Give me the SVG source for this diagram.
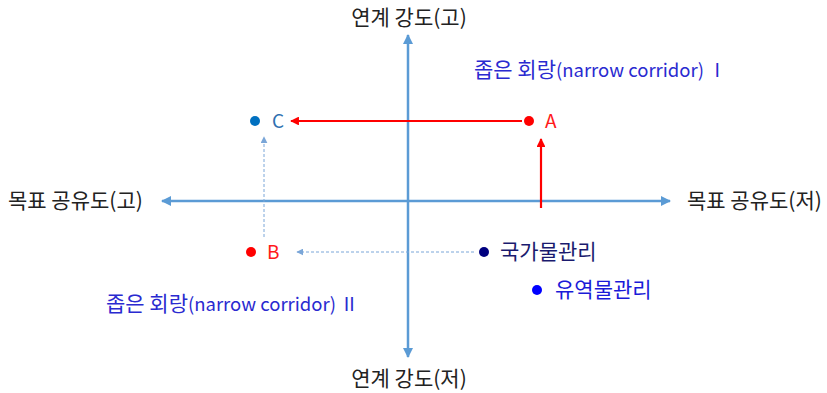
<svg xmlns="http://www.w3.org/2000/svg" width="827" height="393" viewBox="0 0 827 393">
<style>
text{font-family:"Noto Sans CJK KR","Noto Sans",sans-serif;font-size:21px}
.k{fill:#222}
.b{fill:#2a2ad0}
.r{fill:#ff1a1a}
.lat{font-size:18.5px}
.axis{stroke:#5b9bd5;stroke-width:2.5;fill:none}
.red{stroke:#ff0000;stroke-width:2.2;fill:none}
.dash{stroke:#7aa6d8;stroke-width:1;stroke-dasharray:3 2;fill:none}
</style>
<defs>
<marker id="ma" viewBox="0 0 10 10" refX="9" refY="5" markerWidth="4" markerHeight="4" orient="auto-start-reverse" markerUnits="strokeWidth"><path d="M0,0L10,5L0,10z" fill="#5b9bd5"/></marker>
<marker id="mr" viewBox="0 0 10 10" refX="9" refY="5" markerWidth="4" markerHeight="4" orient="auto" markerUnits="strokeWidth"><path d="M0,0L10,5L0,10z" fill="#ff0000"/></marker>
<marker id="md" viewBox="0 0 10 10" refX="9" refY="5" markerWidth="7" markerHeight="7" orient="auto" markerUnits="strokeWidth"><path d="M0,0L10,5L0,10z" fill="#7aa6d8"/></marker>
</defs>
<g id="connectors">
<line class="axis" x1="162" y1="201" x2="670" y2="201" marker-start="url(#ma)" marker-end="url(#ma)"/>
<line class="axis" x1="408" y1="357" x2="408" y2="35" marker-start="url(#ma)" marker-end="url(#ma)"/>
<line class="red" x1="522" y1="121" x2="291" y2="121" marker-end="url(#mr)"/>
<line class="red" x1="541" y1="208" x2="541" y2="139" marker-end="url(#mr)"/>
<line class="dash" x1="264" y1="237" x2="264" y2="137" marker-end="url(#md)"/>
<line class="dash" x1="474" y1="252" x2="297" y2="252" marker-end="url(#md)"/>
</g>
<g id="axis-top"><text class="k" x="409" y="25" text-anchor="middle">연계 강도(고)</text></g>
<g id="axis-bottom"><text class="k" x="409" y="386" text-anchor="middle">연계 강도(저)</text></g>
<g id="axis-left"><text class="k" x="8" y="208">목표 공유도(고)</text></g>
<g id="axis-right"><text class="k" x="687" y="208">목표 공유도(저)</text></g>
<g id="corridor1"><text class="b" x="474" y="77">좁은 회랑<tspan class="lat">(narrow  corridor)  Ⅰ</tspan></text></g>
<g id="corridor2"><text class="b" x="106" y="311">좁은 회랑<tspan class="lat">(narrow  corridor)  Ⅱ</tspan></text></g>
<g id="node-A"><circle cx="529" cy="121" r="5" fill="#ff0000"/><text class="r" x="545" y="128" style="font-size:19px">A</text></g>
<g id="node-C"><circle cx="255" cy="121" r="5" fill="#0070c0"/><text x="272" y="128" fill="#2f6fb0" style="font-size:19px">C</text></g>
<g id="node-B"><circle cx="251" cy="252" r="5" fill="#ff0000"/><text class="r" x="267" y="259" style="font-size:19px">B</text></g>
<g id="node-national"><circle cx="484" cy="252" r="5" fill="#00007f"/><text x="500" y="259" fill="#1a1a6e">국가물관리</text></g>
<g id="node-basin"><circle cx="537" cy="290" r="5" fill="#0000ff"/><text x="555" y="297" fill="#1a1ad8">유역물관리</text></g>
</svg>
